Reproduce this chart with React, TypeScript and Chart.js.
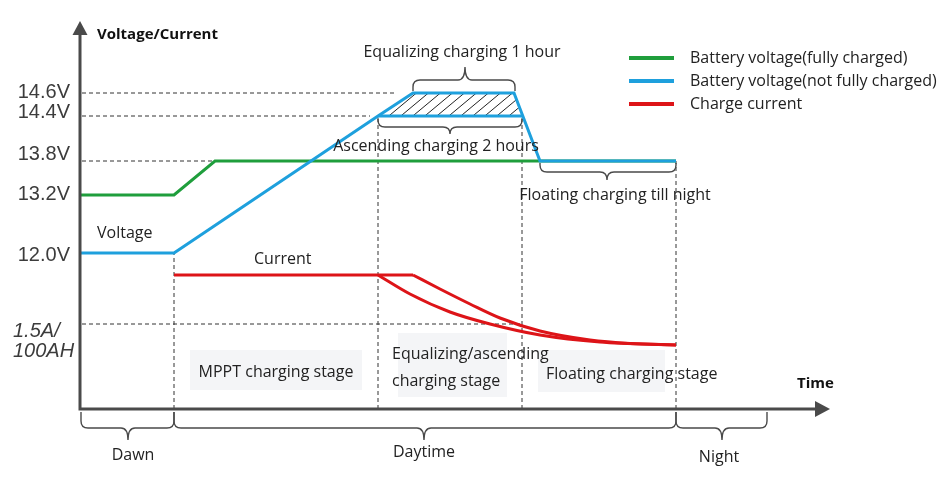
import React, { useEffect, useRef } from 'react';
import { Chart, registerables } from 'chart.js';
Chart.register(...registerables);

// ---- data (time: arbitrary units, level: diagram units) ----
const GREEN_T = [0, 9.4, 13.5, 59.6];
const GREEN_V = [21.4, 21.4, 24.8, 24.8];
const BLUE_T = [0, 9.4, 29.8, 33.3, 43.4, 46, 59.6];
const BLUE_V = [15.6, 15.6, 29.3, 31.6, 31.6, 24.8, 24.8];
const BLUE_ASC_T = [29.8, 44.2];
const BLUE_ASC_V = [29.3, 29.3];
const HATCH_T = [29.8, 33.3, 43.4, 44.2];
const HATCH_V = [29.3, 31.6, 31.6, 29.3];
const RED_FLAT_T = [9.4, 33.3];
const RED_FLAT_V = [13.4, 13.4];
const RED_LOW_T = [29.8, 33, 37, 41, 46, 52, 59.6];
const RED_LOW_V = [13.4, 11.5, 9.7, 8.5, 7.4, 6.7, 6.4];
const RED_UP_T = [33.3, 36, 39, 42, 46, 51, 55, 59.6];
const RED_UP_V = [13.4, 12.0, 10.5, 9.1, 7.8, 6.9, 6.55, 6.4];

const H_DASH_V = [31.6, 29.3, 24.8, 8.5];
const H_DASH_END = [31.7, 29.0, 13.5, 44.0];
const V_DASH_T = [9.4, 29.8, 44.2, 59.6];
const V_DASH_TOP = [15.6, 29.3, 29.3, 24.8];

const LEVEL_LABELS = ['14.6V', '14.4V', '13.8V', '13.2V', '12.0V'];
const LEVEL_LABEL_POS = [31.65, 29.7, 25.5, 21.5, 15.35];
const CURRENT_LABEL = ['1.5A/', '100AH'];
const LEGEND_LABELS = [
  'Battery voltage(fully charged)',
  'Battery voltage(not fully charged)',
  'Charge current',
];

const GREEN = '#1f9e3c';
const BLUE = '#1ea0dd';
const RED = '#dd1418';
const SANS = '"Open Sans", "Noto Sans", sans-serif';
const TXT = '#222222';

const pts = (t: number[], v: number[]) => t.map((tt, i) => ({ x: tt, y: v[i] }));

function brace(ctx: CanvasRenderingContext2D, x1: number, x2: number, xt: number, yE: number, yM: number, yT: number) {
  const s = Math.sign(yM - yE);
  const r = Math.min(7, Math.abs(yM - yE));
  ctx.beginPath();
  ctx.moveTo(x1, yE);
  ctx.lineTo(x1, yM - s * r);
  ctx.quadraticCurveTo(x1, yM, x1 + r, yM);
  ctx.lineTo(xt - r, yM);
  ctx.quadraticCurveTo(xt, yM, xt, yT);
  ctx.quadraticCurveTo(xt, yM, xt + r, yM);
  ctx.lineTo(x2 - r, yM);
  ctx.quadraticCurveTo(x2, yM, x2, yM - s * r);
  ctx.lineTo(x2, yE);
  ctx.stroke();
}

const decor = {
  id: 'decor',
  beforeDatasetsDraw(chart: any) {
    const { ctx, scales } = chart;
    const X = (t: number) => scales.x.getPixelForValue(t);
    const Y = (v: number) => scales.y.getPixelForValue(v);
    ctx.save();
    ctx.fillStyle = '#f4f5f7';
    const boxes = [
      [11, 28.2, 5.9, 1.9],
      [31.8, 42.7, 7.6, 1.2],
      [45.8, 58.5, 5.9, 1.7],
    ];
    for (const [t0, t1, v0, v1] of boxes) {
      ctx.fillRect(X(t0), Y(v0), X(t1) - X(t0), Y(v1) - Y(v0));
    }
    ctx.restore();
  },
  afterDatasetsDraw(chart: any) {
    const { ctx, scales, chartArea } = chart;
    const X = (t: number) => scales.x.getPixelForValue(t);
    const Y = (v: number) => scales.y.getPixelForValue(v);
    ctx.save();
    // axes
    const L = X(0), B = Y(0), T = chartArea.top, R = chartArea.right;
    ctx.strokeStyle = '#4a4a4a';
    ctx.fillStyle = '#4a4a4a';
    ctx.lineWidth = 3;
    ctx.beginPath();
    ctx.moveTo(L, B + 1.5); ctx.lineTo(L, T + 14);
    ctx.moveTo(L - 1.5, B); ctx.lineTo(R - 15, B);
    ctx.stroke();
    ctx.beginPath();
    ctx.moveTo(L - 7.5, T + 14); ctx.lineTo(L + 7.5, T + 14); ctx.lineTo(L, T); ctx.closePath(); ctx.fill();
    ctx.beginPath();
    ctx.moveTo(R - 15, B - 8); ctx.lineTo(R - 15, B + 8); ctx.lineTo(R, B); ctx.closePath(); ctx.fill();

    // braces
    ctx.strokeStyle = '#4a4a4a';
    ctx.lineWidth = 1.4;
    brace(ctx, X(33.3), X(43.5), X(38.5), Y(31.8), Y(32.9), Y(34.2));
    brace(ctx, X(29.8), X(44.2), X(37.0), Y(29.0), Y(28.2), Y(27.5));
    brace(ctx, X(46), X(59.6), X(52.7), Y(24.6), Y(23.7), Y(22.9));
    brace(ctx, X(0.1), X(9.4), X(4.8), Y(-0.3), Y(-1.9), Y(-3.1));
    brace(ctx, X(9.4), X(59.6), X(34.4), Y(-0.3), Y(-1.9), Y(-3.1));
    brace(ctx, X(59.6), X(68.7), X(64.2), Y(-0.3), Y(-1.9), Y(-3.1));

    // y labels
    ctx.fillStyle = '#3c3c3c';
    ctx.textBaseline = 'middle';
    ctx.textAlign = 'right';
    ctx.font = '20px "Liberation Sans", Arial, sans-serif';
    LEVEL_LABELS.forEach((s, i) => ctx.fillText(s, L - 10, Y(LEVEL_LABEL_POS[i])));
    ctx.textAlign = 'left';
    ctx.font = 'italic 20px "Liberation Sans", Arial, sans-serif';
    ctx.fillText(CURRENT_LABEL[0], 13, Y(7.8));
    ctx.fillText(CURRENT_LABEL[1], 13, Y(5.8));

    // texts
    const text = (s: string, t: number, v: number, align: CanvasTextAlign, font: string) => {
      ctx.textAlign = align;
      ctx.font = font;
      ctx.fillText(s, X(t), Y(v));
    };
    ctx.fillStyle = '#111111';
    const bold = `bold 15px ${SANS}`;
    const reg = `16px ${SANS}`;
    text('Voltage/Current', 1.7, 37.4, 'left', bold);
    text('Time', 71.7, 2.5, 'left', bold);
    ctx.fillStyle = TXT;
    text('Voltage', 1.7, 17.6, 'left', reg);
    text('Current', 17.4, 15.0, 'left', reg);
    text('Equalizing charging 1 hour', 38.2, 35.7, 'center', reg);
    text('Ascending charging 2 hours', 35.6, 26.3, 'center', reg);
    text('Floating charging till night', 53.5, 21.4, 'center', reg);
    text('MPPT charging stage', 19.6, 3.7, 'center', reg);
    text('Equalizing/ascending', 31.2, 5.5, 'left', reg);
    text('charging stage', 31.2, 2.8, 'left', reg);
    text('Floating charging stage', 46.6, 3.5, 'left', reg);
    text('Dawn', 5.3, -4.6, 'center', reg);
    text('Daytime', 34.4, -4.3, 'center', reg);
    text('Night', 63.9, -4.8, 'center', reg);

    // legend
    const cols = [GREEN, BLUE, RED];
    const rows = [35.1, 32.8, 30.5];
    ctx.lineWidth = 4;
    ctx.font = reg;
    ctx.textAlign = 'left';
    LEGEND_LABELS.forEach((s, i) => {
      ctx.strokeStyle = cols[i];
      ctx.beginPath();
      ctx.moveTo(X(54.9), Y(rows[i]));
      ctx.lineTo(X(59.4), Y(rows[i]));
      ctx.stroke();
      ctx.fillStyle = TXT;
      ctx.fillText(s, X(61), Y(rows[i]));
    });
    ctx.restore();
  },
};

export default function App() {
  const ref = useRef<HTMLCanvasElement | null>(null);
  useEffect(() => {
    if (!ref.current) return;
    const pc = document.createElement('canvas');
    pc.width = 12; pc.height = 10;
    const pctx = pc.getContext('2d')!;
    pctx.strokeStyle = '#222';
    pctx.lineWidth = 1;
    pctx.beginPath();
    pctx.moveTo(0, 10); pctx.lineTo(12, 0);
    pctx.moveTo(-1.2, 1); pctx.lineTo(1.2, -1);
    pctx.moveTo(10.8, 11); pctx.lineTo(13.2, 9);
    pctx.stroke();
    const pattern = ref.current.getContext('2d')!.createPattern(pc, 'repeat');

    const line = (data: any, color: string, order: number, extra: any = {}) => ({
      data, borderColor: color, borderWidth: 3, pointRadius: 0, fill: false, tension: 0, order, ...extra,
    });
    const dashed = (data: any) => ({
      data, borderColor: '#333', borderWidth: 1, borderDash: [4, 3], pointRadius: 0, fill: false, order: 10,
    });

    const datasets: any[] = [];
    H_DASH_V.forEach((v, i) => datasets.push(dashed([{ x: 0.2, y: v }, { x: H_DASH_END[i], y: v }])));
    V_DASH_T.forEach((t, i) => datasets.push(dashed([{ x: t, y: 0 }, { x: t, y: V_DASH_TOP[i] }])));
    datasets.push({
      data: pts(HATCH_T, HATCH_V), borderWidth: 0, pointRadius: 0, backgroundColor: pattern,
      fill: { value: 29.3 }, order: 9,
    });
    datasets.push(line(pts(GREEN_T, GREEN_V), GREEN, 5));
    datasets.push(line(pts(RED_FLAT_T, RED_FLAT_V), RED, 4));
    datasets.push(line(pts(RED_LOW_T, RED_LOW_V), RED, 4, { cubicInterpolationMode: 'monotone' }));
    datasets.push(line(pts(RED_UP_T, RED_UP_V), RED, 4, { cubicInterpolationMode: 'monotone' }));
    datasets.push(line(pts(BLUE_ASC_T, BLUE_ASC_V), BLUE, 2));
    datasets.push(line(pts(BLUE_T, BLUE_V), BLUE, 1));

    const chart = new Chart(ref.current, {
      type: 'line',
      data: { datasets },
      options: {
        animation: false,
        responsive: false,
        devicePixelRatio: 1,
        layout: { padding: { left: 80, right: 120, top: 21, bottom: 68 } },
        scales: {
          x: { type: 'linear', display: false, min: 0, max: 75 },
          y: { type: 'linear', display: false, min: 0, max: 38.8 },
        },
        plugins: { legend: { display: false }, tooltip: { enabled: false } },
      },
      plugins: [decor],
    } as any);
    return () => chart.destroy();
  }, []);
  return (
    <div style={{ position: 'fixed', left: 0, top: 0, width: 950, height: 477, background: '#fff' }}>
      <canvas ref={ref} width={950} height={477} />
    </div>
  );
}
